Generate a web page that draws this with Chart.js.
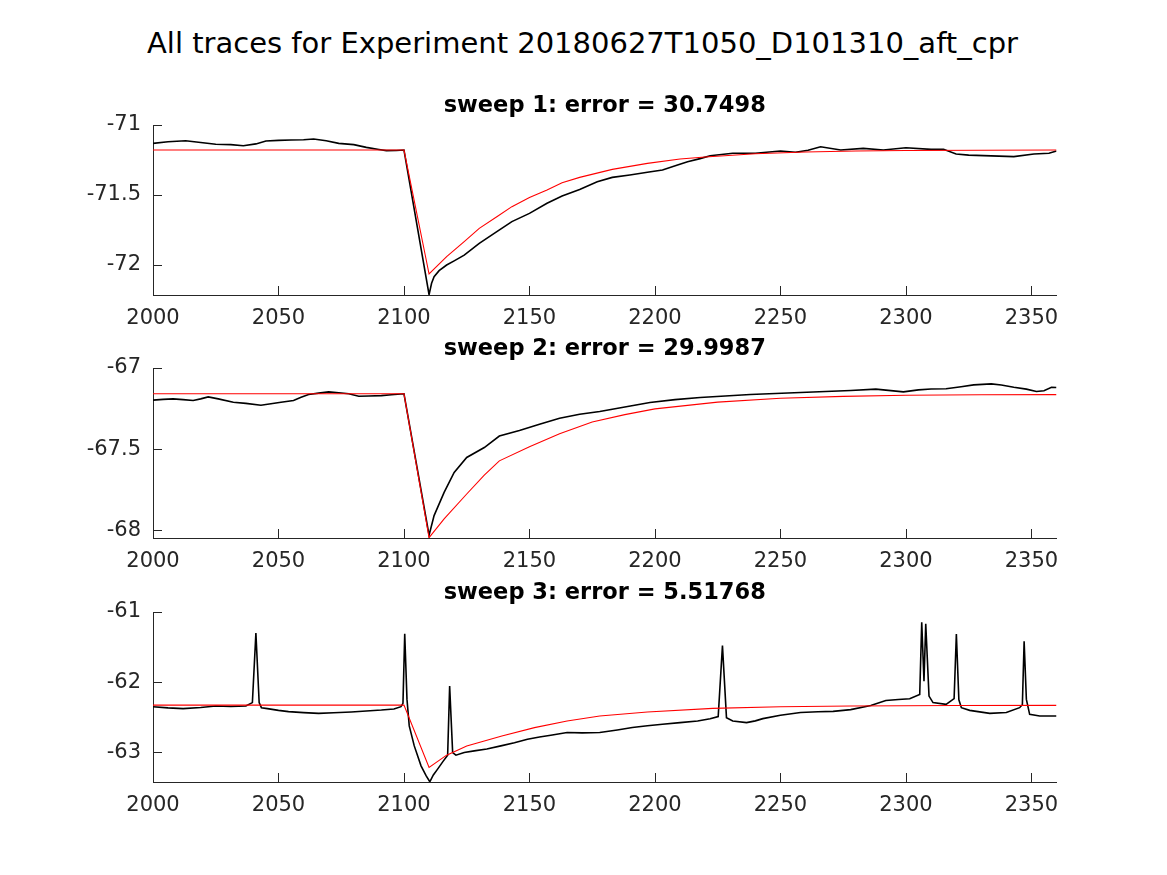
<!DOCTYPE html>
<html>
<head>
<meta charset="utf-8">
<script src="https://cdn.jsdelivr.net/npm/chart.js@4.4.1/dist/chart.umd.min.js"></script>
<style>
  body { margin: 0; background: #fff; }
  #fig { position: relative; width: 1167px; height: 875px; background: #fff; overflow: hidden; }
  #fig canvas { position: absolute; left: 0; }
  #suptitle { position: absolute; left: 0; top: 26px; width: 1165px; text-align: center;
              font: 29px "DejaVu Sans"; color: #000; white-space: nowrap; }
</style>
</head>
<body>
<div id="fig">
  <div id="suptitle">All traces for Experiment 20180627T1050_D101310_aft_cpr</div>
  <canvas id="sweep1" width="1167" height="242" style="top:93px"></canvas>
  <canvas id="sweep2" width="1167" height="242" style="top:336px"></canvas>
  <canvas id="sweep3" width="1167" height="242" style="top:580px"></canvas>
</div>
<script>
// tick labels
var timeTicks = [2000, 2050, 2100, 2150, 2200, 2250, 2300, 2350];
var sweep1Ticks = [-72, -71.5, -71];
var sweep2Ticks = [-68, -67.5, -67];
var sweep3Ticks = [-63, -62, -61];
var sweepErrors = ["30.7498", "29.9987", "5.51768"];

// sweep 1: recorded trace (black) and fit (red), mV
var sweep1Time = [2000, 2006, 2013, 2019, 2025, 2031, 2036, 2041, 2045, 2050, 2055, 2060, 2064, 2069,
  2074, 2080, 2085, 2090, 2093, 2097, 2100, 2110, 2111, 2112, 2114, 2117, 2120, 2124, 2130, 2137, 2143,
  2150, 2157, 2163, 2170, 2177, 2183, 2190, 2197, 2203, 2209, 2213, 2218, 2222, 2231, 2240, 2250, 2256,
  2261, 2266, 2274, 2283, 2291, 2300, 2310, 2315, 2320, 2325, 2331, 2337, 2343, 2351, 2357, 2360];
var sweep1Trace = [-71.131, -71.12, -71.112, -71.125, -71.138, -71.14, -71.148, -71.135, -71.114, -71.11,
  -71.107, -71.105, -71.1, -71.112, -71.131, -71.14, -71.16, -71.175, -71.183, -71.182, -71.179, -72.212,
  -72.13, -72.083, -72.04, -72.0, -71.97, -71.929, -71.845, -71.762, -71.69, -71.631, -71.559, -71.507,
  -71.46, -71.405, -71.374, -71.357, -71.338, -71.321, -71.286, -71.262, -71.24, -71.219, -71.202, -71.202,
  -71.186, -71.195, -71.18, -71.155, -71.179, -71.167, -71.179, -71.162, -71.174, -71.174, -71.207, -71.215,
  -71.219, -71.222, -71.226, -71.207, -71.202, -71.186];
var sweep1FitTime = [2000, 2100, 2110, 2117, 2124, 2130, 2137, 2143, 2150, 2157, 2163, 2170, 2183, 2197,
  2210, 2220, 2240, 2260, 2280, 2300, 2330, 2360];
var sweep1Fit = [-71.179, -71.179, -72.064, -71.94, -71.833, -71.738, -71.655, -71.583, -71.517, -71.464,
  -71.412, -71.374, -71.317, -71.274, -71.243, -71.228, -71.205, -71.193, -71.186, -71.182, -71.18, -71.179];

// sweep 2
var sweep2Time = [2000, 2004, 2008, 2012, 2016, 2019, 2022, 2026, 2032, 2037, 2043, 2047, 2051, 2056, 2059,
  2062, 2066, 2070, 2074, 2078, 2082, 2086, 2091, 2095, 2100, 2110, 2112, 2116, 2120, 2125, 2132, 2138,
  2146, 2154, 2162, 2170, 2178, 2188, 2198, 2208, 2218, 2228, 2238, 2248, 2258, 2268, 2278, 2288, 2299,
  2305, 2310, 2316, 2322, 2327, 2334, 2338, 2343, 2348, 2352, 2355, 2358, 2360];
var sweep2Trace = [-67.198, -67.193, -67.19, -67.195, -67.2, -67.19, -67.178, -67.19, -67.211, -67.218,
  -67.229, -67.22, -67.211, -67.2, -67.18, -67.163, -67.155, -67.147, -67.152, -67.159, -67.174, -67.172,
  -67.17, -67.165, -67.159, -68.03, -67.909, -67.766, -67.643, -67.551, -67.49, -67.419, -67.385, -67.347,
  -67.31, -67.285, -67.268, -67.24, -67.212, -67.195, -67.182, -67.172, -67.163, -67.157, -67.151, -67.145,
  -67.139, -67.13, -67.147, -67.135, -67.129, -67.128, -67.115, -67.104, -67.098, -67.105, -67.119, -67.13,
  -67.145, -67.14, -67.119, -67.12];
var sweep2FitTime = [2000, 2100, 2110, 2116, 2125, 2132, 2138, 2150, 2162, 2175, 2188, 2200, 2225, 2250,
  2275, 2300, 2330, 2360];
var sweep2Fit = [-67.159, -67.159, -68.045, -67.929, -67.776, -67.66, -67.572, -67.485, -67.405, -67.333,
  -67.287, -67.252, -67.21, -67.186, -67.175, -67.168, -67.165, -67.164];

// sweep 3
var sweep3Time = [2000, 2006, 2012, 2019, 2025, 2031, 2037, 2039.6, 2041, 2042.3, 2043.2, 2045.6, 2050,
  2054, 2060, 2066, 2072, 2079, 2085, 2091, 2096, 2098.8, 2099.6, 2100.3, 2101.2, 2102.1, 2104.1, 2106.8,
  2108.8, 2110.3, 2111.7, 2113.4, 2115.5, 2117.4, 2118.2, 2119.4, 2120.7, 2124, 2128, 2133, 2138.6, 2144,
  2149.2, 2154, 2158.5, 2165, 2171, 2178, 2185, 2191, 2197, 2203, 2210, 2217, 2222, 2225.2, 2226.9, 2228.5,
  2231, 2236.5, 2240, 2243, 2250, 2258, 2265, 2271, 2278, 2286, 2292, 2297, 2301.5, 2305.5, 2306.3, 2307.2,
  2307.9, 2309.2, 2310.8, 2316, 2319.2, 2320.1, 2321.1, 2322.1, 2325.4, 2333.4, 2340, 2345.3, 2346.4,
  2347.1, 2348, 2349.3, 2353.3, 2360];
var sweep3Trace = [-62.348, -62.365, -62.376, -62.36, -62.339, -62.345, -62.339, -62.29, -61.3, -62.29,
  -62.362, -62.376, -62.4, -62.418, -62.432, -62.443, -62.435, -62.424, -62.41, -62.396, -62.38, -62.348,
  -62.3, -61.31, -62.244, -62.622, -62.906, -63.19, -63.33, -63.417, -63.32, -63.237, -63.13, -63.038,
  -62.055, -63.0, -63.038, -63.0, -62.977, -62.95, -62.906, -62.86, -62.811, -62.78, -62.755, -62.716,
  -62.72, -62.716, -62.68, -62.645, -62.62, -62.599, -62.575, -62.552, -62.52, -62.489, -61.478, -62.504,
  -62.552, -62.575, -62.55, -62.518, -62.47, -62.43, -62.42, -62.414, -62.39, -62.33, -62.26, -62.245,
  -62.234, -62.173, -61.147, -61.984, -61.166, -62.197, -62.29, -62.315, -62.234, -61.312, -62.25, -62.362,
  -62.4, -62.443, -62.43, -62.362, -62.32, -61.417, -62.244, -62.457, -62.48, -62.48];
var sweep3FitTime = [2000, 2100, 2110, 2117, 2125, 2139, 2152, 2165, 2178, 2197, 2223, 2250, 2278, 2320, 2360];
var sweep3Fit = [-62.325, -62.325, -63.213, -63.038, -62.906, -62.764, -62.646, -62.552, -62.48, -62.424,
  -62.372, -62.348, -62.339, -62.332, -62.329];

var axisColor = "#262626";
var fontFamily = "'DejaVu Sans', sans-serif";

function toPoints(times, values) {
  return times.map(function(t, i) { return { x: t, y: values[i] }; });
}

// MATLAB style tick marks that point into the axes
var inwardTicks = {
  id: "inwardTicks",
  afterDraw: function(chart) {
    var ctx = chart.ctx, area = chart.chartArea;
    var xs = chart.scales.x, ys = chart.scales.y;
    ctx.save();
    ctx.strokeStyle = axisColor;
    ctx.lineWidth = 1;
    ctx.beginPath();
    xs.ticks.forEach(function(t) {
      var px = Math.round(xs.getPixelForValue(t.value)) + 0.5;
      ctx.moveTo(px, area.bottom);
      ctx.lineTo(px, area.bottom - 9);
    });
    ys.ticks.forEach(function(t) {
      var py = Math.round(ys.getPixelForValue(t.value)) + 0.5;
      ctx.moveTo(area.left, py);
      ctx.lineTo(area.left + 9, py);
    });
    ctx.stroke();
    ctx.restore();
  }
};

function makeSweepChart(id, n, time, trace, fitTime, fit, yMin, yMax, yTicks) {
  return new Chart(document.getElementById(id), {
    type: "line",
    data: {
      datasets: [
        { data: toPoints(fitTime, fit), borderColor: "#ff0000", borderWidth: 1.1, pointRadius: 0 },
        { data: toPoints(time, trace), borderColor: "#000000", borderWidth: 1.6, pointRadius: 0 }
      ]
    },
    options: {
      responsive: false,
      animation: false,
      events: [],
      layout: { padding: { left: 0, right: 110.5, top: 0, bottom: 0 } },
      plugins: {
        legend: { display: false },
        tooltip: { enabled: false },
        title: {
          display: true,
          fullSize: false,
          text: "sweep " + n + ": error = " + sweepErrors[n - 1],
          color: "#000",
          font: { family: fontFamily, size: 22.5, weight: "bold", lineHeight: 1.2 },
          padding: { top: 0, bottom: 5 }
        }
      },
      scales: {
        x: {
          type: "linear",
          min: 2000,
          max: 2360,
          grid: { display: false, drawTicks: false },
          border: { display: true, color: axisColor, width: 1 },
          ticks: {
            color: axisColor,
            padding: 11,
            font: { family: fontFamily, size: 21 },
            callback: function(v) { return String(v); }
          },
          afterBuildTicks: function(s) { s.ticks = timeTicks.map(function(v) { return { value: v }; }); },
          afterFit: function(s) { s.height = 40; }
        },
        y: {
          type: "linear",
          min: yMin,
          max: yMax,
          grid: { display: false, drawTicks: false },
          border: { display: true, color: axisColor, width: 1 },
          ticks: {
            color: axisColor,
            padding: 12,
            font: { family: fontFamily, size: 21 },
            callback: function(v) { return String(Math.round(v * 10) / 10); }
          },
          afterBuildTicks: function(s) { s.ticks = yTicks.map(function(v) { return { value: v }; }); },
          afterFit: function(s) { s.width = 153; }
        }
      }
    },
    plugins: [inwardTicks]
  });
}

makeSweepChart("sweep1", 1, sweep1Time, sweep1Trace, sweep1FitTime, sweep1Fit, -72.214, -71, sweep1Ticks);
makeSweepChart("sweep2", 2, sweep2Time, sweep2Trace, sweep2FitTime, sweep2Fit, -68.047, -67, sweep2Ticks);
makeSweepChart("sweep3", 3, sweep3Time, sweep3Trace, sweep3FitTime, sweep3Fit, -63.42, -61, sweep3Ticks);
</script>
</body>
</html>
